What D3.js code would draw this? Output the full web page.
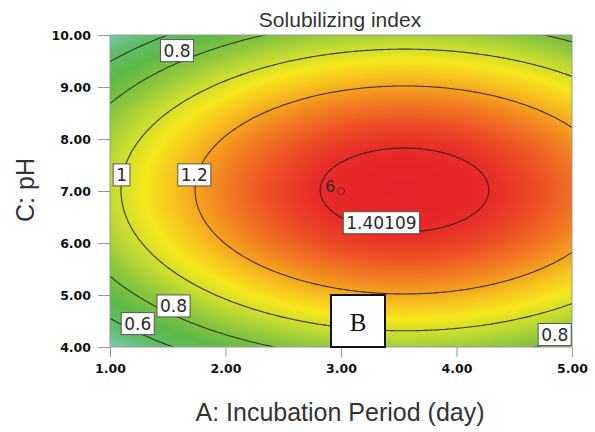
<!DOCTYPE html>
<html>
<head>
<meta charset="utf-8">
<script src="https://cdn.jsdelivr.net/npm/d3@7"></script>
<style>
  body { margin: 0; background: #fff; }
  svg { display: block; }
</style>
</head>
<body>
<div id="dvBody"></div>
<script>
// datos
var xTicks = [1, 2, 3, 4, 5];
var yTicks = [4, 5, 6, 7, 8, 9, 10];
var xDomain = [1, 5];
var yDomain = [4, 10];

// modelo cuadratico ajustado (pico, centro, curvatura en A y C)
var peakValue = 1.44;
var peakAt = [3.55, 7.02];
var curvature = [0.073, 0.060];

// niveles de contorno
var levels = [0.6, 0.8, 1.0, 1.2, 1.40109];

// etiquetas de contorno (texto, A, C)
var labelText = ["0.8", "1", "1.2", "1.40109", "0.8", "0.6", "0.8"];
var labelA = [1.58, 1.10, 1.73, 3.35, 1.55, 1.24, 4.85];
var labelC = [9.70, 7.31, 7.31, 6.39, 4.79, 4.45, 4.24];

// punto de diseño central
var designA = [3];
var designC = [7];
var designCount = ["6"];

// escala de color
var colorValues = [0.42, 0.55, 0.70, 0.85, 0.97, 1.07, 1.15, 1.22, 1.32, 1.40, 1.45];
var colorStops = ["#7cc9b4", "#5fbf6c", "#5cb947", "#8cc63c", "#c6dc30", "#f4e61b",
                  "#f7c21e", "#f4981f", "#ee5c24", "#e82b28", "#e62128"];

var margin = {top: 35, right: 23, bottom: 85, left: 110},
    width = 595 - margin.left - margin.right,
    height = 432 - margin.top - margin.bottom;

function modelo(a, c) {
  var da = a - peakAt[0], dc = c - peakAt[1];
  return peakValue - curvature[0] * da * da - curvature[1] * dc * dc;
}

var svgRoot = d3.select("#dvBody")
  .append("svg")
  .attr("width", 595)
  .attr("height", 432);

var svg = svgRoot.append("g")
  .attr("transform", "translate(" + margin.left + "," + margin.top + ")");

var x = d3.scaleLinear().domain(xDomain).range([0, width]);
var y = d3.scaleLinear().domain(yDomain).range([height, 0]);

var color = d3.scaleLinear().domain(colorValues).range(colorStops).clamp(true);

// relleno de color con canvas -> image
var canvas = document.createElement("canvas");
canvas.width = width;
canvas.height = height;
var ctx = canvas.getContext("2d");
var img = ctx.createImageData(width, height);
for (var j = 0; j < height; j++) {
  for (var i = 0; i < width; i++) {
    var v = modelo(x.invert(i + 0.5), y.invert(j + 0.5));
    var col = d3.rgb(color(v));
    var k = (j * width + i) * 4;
    img.data[k] = col.r; img.data[k + 1] = col.g; img.data[k + 2] = col.b; img.data[k + 3] = 255;
  }
}
ctx.putImageData(img, 0, 0);

svg.append("image")
  .attr("width", width)
  .attr("height", height)
  .attr("preserveAspectRatio", "none")
  .attr("href", canvas.toDataURL());

// contornos
svg.append("clipPath").attr("id", "clipPlot")
  .append("rect").attr("width", width).attr("height", height);

var nx = 240, ny = 180;
var gx = d3.scaleLinear().domain([0, nx]).range([0.8, 5.2]);
var gy = d3.scaleLinear().domain([0, ny]).range([3.7, 10.3]);
var grid = new Array(nx * ny);
for (var jj = 0; jj < ny; jj++) {
  for (var ii = 0; ii < nx; ii++) {
    grid[jj * nx + ii] = modelo(gx(ii + 0.5), gy(jj + 0.5));
  }
}
var contornos = d3.contours().size([nx, ny]).thresholds(levels)(grid);

var proyeccion = d3.geoTransform({
  point: function(px, py) { this.stream.point(x(gx(px)), y(gy(py))); }
});

svg.append("g")
  .attr("clip-path", "url(#clipPlot)")
  .selectAll("path")
  .data(contornos)
  .join("path")
  .attr("d", d3.geoPath(proyeccion))
  .attr("fill", "none")
  .attr("stroke", "#26261c")
  .attr("stroke-opacity", 0.9)
  .attr("stroke-width", 1.1);

// marco
svg.append("rect")
  .attr("width", width)
  .attr("height", height)
  .attr("fill", "none")
  .attr("stroke", "#9a9a9a")
  .attr("stroke-width", 1);

// ejes
var ejeX = svg.append("g")
  .attr("transform", "translate(0," + height + ")")
  .call(d3.axisBottom(x).tickValues(xTicks).tickFormat(d3.format(".2f")).tickSize(10).tickPadding(7));
var ejeY = svg.append("g")
  .call(d3.axisLeft(y).tickValues(yTicks).tickFormat(d3.format(".2f")).tickSize(12).tickPadding(7));

[ejeX, ejeY].forEach(function(e) {
  e.select(".domain").remove();
  e.selectAll("line").attr("stroke", "#9a9a9a");
  e.selectAll("text")
    .attr("fill", "#111")
    .style("font-family", "'DejaVu Sans', sans-serif")
    .style("font-weight", "bold")
    .style("font-size", "12.5px");
});
ejeY.selectAll("text").attr("dy", "0.35em");

// punto de diseño
svg.selectAll("circle.diseno")
  .data(designA)
  .join("circle")
  .attr("class", "diseno")
  .attr("cx", function(d) { return x(d); })
  .attr("cy", function(d, i) { return y(designC[i]); })
  .attr("r", 3.5)
  .attr("fill", "none")
  .attr("stroke", "#6e2418")
  .attr("stroke-width", 1);

svg.selectAll("text.cuenta")
  .data(designCount)
  .join("text")
  .attr("class", "cuenta")
  .attr("x", function(d, i) { return x(designA[i]) - 6; })
  .attr("y", function(d, i) { return y(designC[i]) + 1; })
  .attr("text-anchor", "end")
  .attr("fill", "#2a2a2a")
  .style("font-family", "'Liberation Sans', Arial, sans-serif")
  .style("font-size", "17px")
  .text(function(d) { return d; });

// etiquetas de contorno
var etiquetas = svg.append("g")
  .selectAll("g")
  .data(labelText)
  .join("g")
  .attr("transform", function(d, i) {
    return "translate(" + x(labelA[i]) + "," + y(labelC[i]) + ")";
  });

etiquetas.append("text")
  .attr("text-anchor", "middle")
  .attr("dy", "0.37em")
  .attr("fill", "#2a2a2a")
  .style("font-family", "'DejaVu Sans', sans-serif")
  .style("font-size", "17px")
  .text(function(d) { return d; });

etiquetas.each(function() {
  var g = d3.select(this);
  var bb = g.select("text").node().getBBox();
  g.insert("rect", "text")
    .attr("x", bb.x - 3)
    .attr("y", -11)
    .attr("width", bb.width + 6)
    .attr("height", 22)
    .attr("fill", "#fff")
    .attr("stroke", "#555")
    .attr("stroke-width", 1);
});

// recuadro B
svgRoot.append("rect")
  .attr("x", 331)
  .attr("y", 295)
  .attr("width", 54)
  .attr("height", 52)
  .attr("fill", "#fff")
  .attr("stroke", "#111")
  .attr("stroke-width", 2);
svgRoot.append("text")
  .attr("x", 358)
  .attr("y", 331)
  .attr("text-anchor", "middle")
  .attr("fill", "#111")
  .style("font-family", "'Liberation Serif', 'DejaVu Serif', serif")
  .style("font-size", "25px")
  .text("B");

// titulos
svgRoot.append("text")
  .attr("x", 340)
  .attr("y", 27)
  .attr("text-anchor", "middle")
  .attr("fill", "#333")
  .style("font-family", "'Liberation Sans', Arial, sans-serif")
  .style("font-size", "21px")
  .text("Solubilizing index");

svgRoot.append("text")
  .attr("x", 340)
  .attr("y", 421)
  .attr("text-anchor", "middle")
  .attr("fill", "#333")
  .style("font-family", "'Liberation Sans', Arial, sans-serif")
  .style("font-size", "25px")
  .text("A: Incubation Period (day)");

svgRoot.append("text")
  .attr("transform", "translate(34,190) rotate(-90)")
  .attr("text-anchor", "middle")
  .attr("fill", "#333")
  .style("font-family", "'Liberation Sans', Arial, sans-serif")
  .style("font-size", "25px")
  .text("C: pH");
</script>
</body>
</html>
